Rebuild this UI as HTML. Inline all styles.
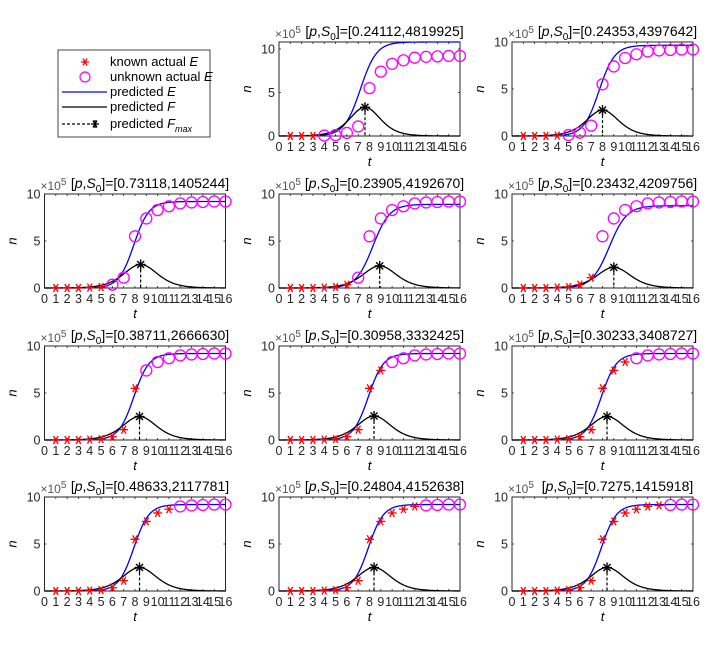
<!DOCTYPE html>
<html><head><meta charset="utf-8"><style>
html,body{margin:0;padding:0;background:#fff}
svg{display:block;font-family:"Liberation Sans",sans-serif}
</style></head><body>
<svg id="fig" width="728" height="653" viewBox="0 0 728 653" xmlns="http://www.w3.org/2000/svg">
<g>
  <rect x="58" y="50" width="152" height="87" fill="#fff" stroke="#444" stroke-width="1"/>
  <g stroke="red" stroke-width="1.3">
    <line x1="81" y1="62" x2="89" y2="62"/><line x1="83" y1="58.5" x2="87" y2="65.5"/><line x1="87" y1="58.5" x2="83" y2="65.5"/>
  </g>
  <text x="110" y="66" font-size="13">known actual <tspan font-style="italic">E</tspan></text>
  <circle cx="85" cy="77" r="5" fill="none" stroke="magenta" stroke-width="1.2"/>
  <text x="110" y="81" font-size="13">unknown actual <tspan font-style="italic">E</tspan></text>
  <line x1="62" y1="92" x2="107" y2="92" stroke="blue" stroke-width="1.2"/>
  <text x="110" y="96" font-size="13">predicted <tspan font-style="italic">E</tspan></text>
  <line x1="62" y1="107" x2="107" y2="107" stroke="#000" stroke-width="1.2"/>
  <text x="110" y="111" font-size="13">predicted <tspan font-style="italic">F</tspan></text>
  <line x1="62" y1="124" x2="92" y2="124" stroke="#000" stroke-width="1.2" stroke-dasharray="3,2"/>
  <g stroke="#000" stroke-width="1.3">
    <line x1="91" y1="124" x2="99" y2="124"/><line x1="93" y1="120.5" x2="97" y2="127.5"/><line x1="97" y1="120.5" x2="93" y2="127.5"/><line x1="95" y1="120" x2="95" y2="128"/>
  </g>
  <text x="110" y="128" font-size="13">predicted <tspan font-style="italic">F</tspan><tspan font-size="9" font-style="italic" dy="4">max</tspan></text>
</g>
</svg>
<script>
// Data (values in units of 1e5)
const tValues = [1,2,3,4,5,6,7,8,9,10,11,12,13,14,15,16];
const actualE = [0,0,0,0.05,0.1,0.35,1.1,5.5,7.4,8.3,8.7,9.0,9.1,9.15,9.2,9.2];
const titles = ["[0.24112,4819925]","[0.24353,4397642]","[0.73118,1405244]","[0.23905,4192670]","[0.23432,4209756]","[0.38711,2666630]","[0.30958,3332425]","[0.30233,3408727]","[0.48633,2117781]","[0.24804,4152638]","[0.7275,1415918]"];
const knownCounts = [3,4,5,6,7,8,9,10,11,12,13];
const predMaxE = [10.8,9.65,9.2,8.9,8.75,9.2,9.2,9.2,9.2,9.2,9.2];
const eCenters = [7.2,7.7,7.9,8.3,8.6,7.9,7.9,7.9,7.9,7.9,7.9];
const eRates = [1.4,1.45,1.5,1.35,1.3,1.5,1.5,1.5,1.5,1.5,1.5];
const peakTimes = [7.6,8.0,8.5,8.9,9.0,8.4,8.4,8.4,8.4,8.4,8.4];
const peakF = [3.3,2.75,2.5,2.35,2.2,2.5,2.55,2.5,2.5,2.5,2.5];
const fRates = [1.1,1.05,1.0,1.0,1.0,1.0,1.0,1.0,1.0,1.0,1.0];
const yMaxes = [10.8,10,10,10,10,10,10,10,10,10,10];
const xTicks = [0,1,2,3,4,5,6,7,8,9,10,11,12,13,14,15,16];
const yTicks = [0,5,10];

const NS = "http://www.w3.org/2000/svg";
const svg = document.getElementById('fig');
const slots = [[1,0],[2,0],[0,1],[1,1],[2,1],[0,2],[1,2],[2,2],[0,3],[1,3],[2,3]];
const colLeft = [44.5,279,512], rowBottom = [136,288,440,591];
const W = 181, H = 94;
function mk(tag, attrs, parent){const e=document.createElementNS(NS,tag);for(const k in attrs)e.setAttribute(k,attrs[k]);parent.appendChild(e);return e;}

titles.forEach((title,i)=>{
  const [c,r]=slots[i];
  const L=colLeft[c], B=rowBottom[r], T=B-H;
  const xs=v=>L+v/16*W;
  const ys=v=>B-v/yMaxes[i]*H;
  const g=mk('g',{},svg);
  
  
  const box=mk('rect',{x:L,y:T,width:W,height:H,fill:'#fff',stroke:'#262626','stroke-width':1},g);
  
  
  xTicks.forEach(v=>{
    mk('line',{x1:xs(v),y1:B,x2:xs(v),y2:B-2,stroke:'#262626','stroke-width':0.8},g);
    mk('line',{x1:xs(v),y1:T,x2:xs(v),y2:T+2,stroke:'#262626','stroke-width':0.8},g);
    const tx=mk('text',{x:xs(v),y:B+15,'font-size':12.5,'text-anchor':'middle',fill:'#262626'},g);
    tx.textContent=v;
    
    
  });
  yTicks.forEach(v=>{
    mk('line',{x1:L,y1:ys(v),x2:L+2,y2:ys(v),stroke:'#262626','stroke-width':0.8},g);
    mk('line',{x1:L+W,y1:ys(v),x2:L+W-2,y2:ys(v),stroke:'#262626','stroke-width':0.8},g);
    const ty=mk('text',{x:L-4,y:ys(v)+4.5,'font-size':12.5,'text-anchor':'end',fill:'#262626'},g);
    ty.textContent=v;
    
    
  });
  const ex=mk('text',{x:L-4,y:T-4,'font-size':12,fill:'#555'},g);
  ex.innerHTML='×10<tspan dy="-5" font-size="10">5</tspan>';
  
  
  const tt=mk('text',{x:L+W/2+15,y:T-6,'font-size':14,'text-anchor':'middle',fill:'#000'},g);
  tt.innerHTML='[<tspan font-style="italic">p</tspan>,<tspan font-style="italic">S</tspan><tspan font-size="10" dy="4">0</tspan><tspan dy="-4">]=</tspan>'+title;
  
  
  const yl=mk('text',{x:L-28,y:(T+B)/2,'font-size':13,'font-style':'italic','text-anchor':'middle',transform:'rotate(-90 '+(L-28)+' '+((T+B)/2)+')'},g);
  yl.textContent='n';
  
  
  const xl=mk('text',{x:L+W/2,y:B+30,'font-size':13,'font-style':'italic','text-anchor':'middle'},g);
  xl.textContent='t';
  
  
  const K=predMaxE[i], tE=eCenters[i], rE=eRates[i], tF=peakTimes[i], rF=fRates[i], Fm=peakF[i];
  let dE='',dF='';
  for(let k=0;k<=320;k++){
    const t=k/20;
    const E=K/(1+Math.exp(-rE*(t-tE)));
    const e=Math.exp(-rF*(t-tF));
    const F=Fm*4*e/((1+e)*(1+e));
    dE+=(k?'L':'M')+xs(t).toFixed(2)+' '+ys(E).toFixed(2);
    dF+=(k?'L':'M')+xs(t).toFixed(2)+' '+ys(F).toFixed(2);
  }
  const pe=mk('path',{d:dE,fill:'none',stroke:'blue','stroke-width':1.3},g);
  
  
  const pf=mk('path',{d:dF,fill:'none',stroke:'#000','stroke-width':1.3},g);
  
  
  const dl=mk('line',{x1:xs(tF),y1:ys(Fm),x2:xs(tF),y2:B,stroke:'#000','stroke-width':1.2,'stroke-dasharray':'3,2'},g);
  
  
  tValues.forEach((t,j)=>{
    const cx=xs(t), cy=ys(actualE[j]);
    if(j<knownCounts[i]){
      const s=mk('g',{stroke:'red','stroke-width':1.3},g);
      
      
      mk('line',{x1:cx-4.5,y1:cy,x2:cx+4.5,y2:cy},s);
      mk('line',{x1:cx-2.3,y1:cy-4,x2:cx+2.3,y2:cy+4},s);
      mk('line',{x1:cx+2.3,y1:cy-4,x2:cx-2.3,y2:cy+4},s);
    } else {
      const ci=mk('circle',{cx:cx,cy:cy,r:5.5,fill:'none',stroke:'magenta','stroke-width':1.3},g);
      
      
    }
  });
  const px=xs(tF), py=ys(Fm);
  const st=mk('g',{stroke:'#000','stroke-width':1.4},g);
  
  
  mk('line',{x1:px-5,y1:py,x2:px+5,y2:py},st);
  mk('line',{x1:px,y1:py-5,x2:px,y2:py+5},st);
  mk('line',{x1:px-3.5,y1:py-3.5,x2:px+3.5,y2:py+3.5},st);
  mk('line',{x1:px+3.5,y1:py-3.5,x2:px-3.5,y2:py+3.5},st);
});
</script>
</body></html>
